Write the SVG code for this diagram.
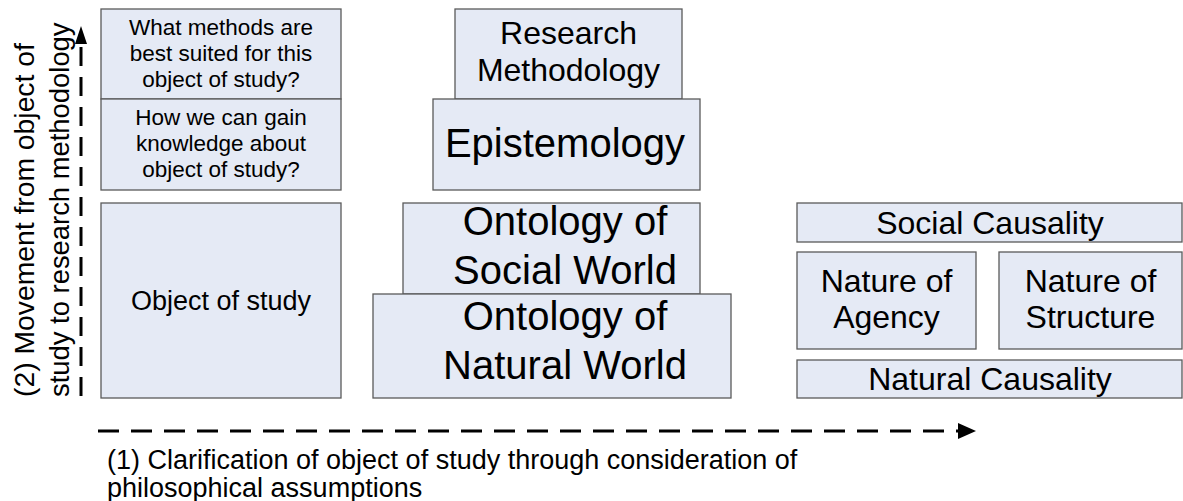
<svg xmlns="http://www.w3.org/2000/svg" width="1183" height="501" viewBox="0 0 1183 501">
<style>
.box{fill:#E5EAF5;stroke:#5A5A5A;stroke-width:1.3}
text{font-family:"Liberation Sans",Arial,sans-serif;fill:#000}
.c{text-anchor:middle}
.s22{font-size:22.5px}
.s27{font-size:27px}
.s32{font-size:32px}
.s40{font-size:40px}
.dash{fill:none;stroke:#000;stroke-width:3}
</style>
<rect width="1183" height="501" fill="#fff"/>
<g id="connectors">
<path class="dash" d="M81,396 V44" stroke-dasharray="19 11"/>
<polygon points="81,26 75,44 87,44" fill="#000"/>
<path class="dash" d="M98,431 H958" stroke-dasharray="21 12"/>
<polygon points="976,431 958,423 958,439" fill="#000"/>
</g>
<g id="node-methods">
<rect class="box" x="101" y="9" width="240" height="90"/>
<text class="c s22" x="221" y="35">What methods are</text>
<text class="c s22" x="221" y="61">best suited for this</text>
<text class="c s22" x="221" y="87">object of study?</text>
</g>
<g id="node-knowledge">
<rect class="box" x="101" y="99" width="240" height="91"/>
<text class="c s22" x="221" y="125">How we can gain</text>
<text class="c s22" x="221" y="151">knowledge about</text>
<text class="c s22" x="221" y="177">object of study?</text>
</g>
<g id="node-object">
<rect class="box" x="101" y="203" width="240" height="195"/>
<text class="c s27" x="221" y="310">Object of study</text>
</g>
<g id="node-research-methodology">
<rect class="box" x="455" y="9" width="227" height="90"/>
<text class="c s32" x="568.5" y="44">Research</text>
<text class="c s32" x="568.5" y="81">Methodology</text>
</g>
<g id="node-epistemology">
<rect class="box" x="433" y="99" width="267" height="91"/>
<text class="c s40" x="565" y="157">Epistemology</text>
</g>
<g id="node-ontology-social">
<rect class="box" x="403" y="203" width="297" height="91"/>
<text class="c s40" x="565" y="235">Ontology of</text>
<text class="c s40" x="565" y="284">Social World</text>
</g>
<g id="node-ontology-natural">
<rect class="box" x="373" y="294" width="358" height="104"/>
<text class="c s40" x="565" y="330">Ontology of</text>
<text class="c s40" x="565" y="379">Natural World</text>
</g>
<g id="node-social-causality">
<rect class="box" x="797" y="203" width="385" height="39"/>
<text class="c s32" x="990" y="234">Social Causality</text>
</g>
<g id="node-agency">
<rect class="box" x="797" y="252" width="179" height="97"/>
<text class="c s32" x="886.5" y="292">Nature of</text>
<text class="c s32" x="886.5" y="328">Agency</text>
</g>
<g id="node-structure">
<rect class="box" x="999" y="252" width="183" height="97"/>
<text class="c s32" x="1090.5" y="292">Nature of</text>
<text class="c s32" x="1090.5" y="328">Structure</text>
</g>
<g id="node-natural-causality">
<rect class="box" x="797" y="360" width="385" height="38"/>
<text class="c s32" x="990" y="390">Natural Causality</text>
</g>
<g id="label-vertical">
<text font-size="28.3" transform="translate(34,397) rotate(-90)">(2) Movement from object of</text>
<text font-size="27.4" transform="translate(69,397) rotate(-90)">study to research methodology</text>
</g>
<g id="label-horizontal">
<text class="s27" x="107" y="469">(1) Clarification of object of study through consideration of</text>
<text class="s27" x="107" y="497">philosophical assumptions</text>
</g>
</svg>
